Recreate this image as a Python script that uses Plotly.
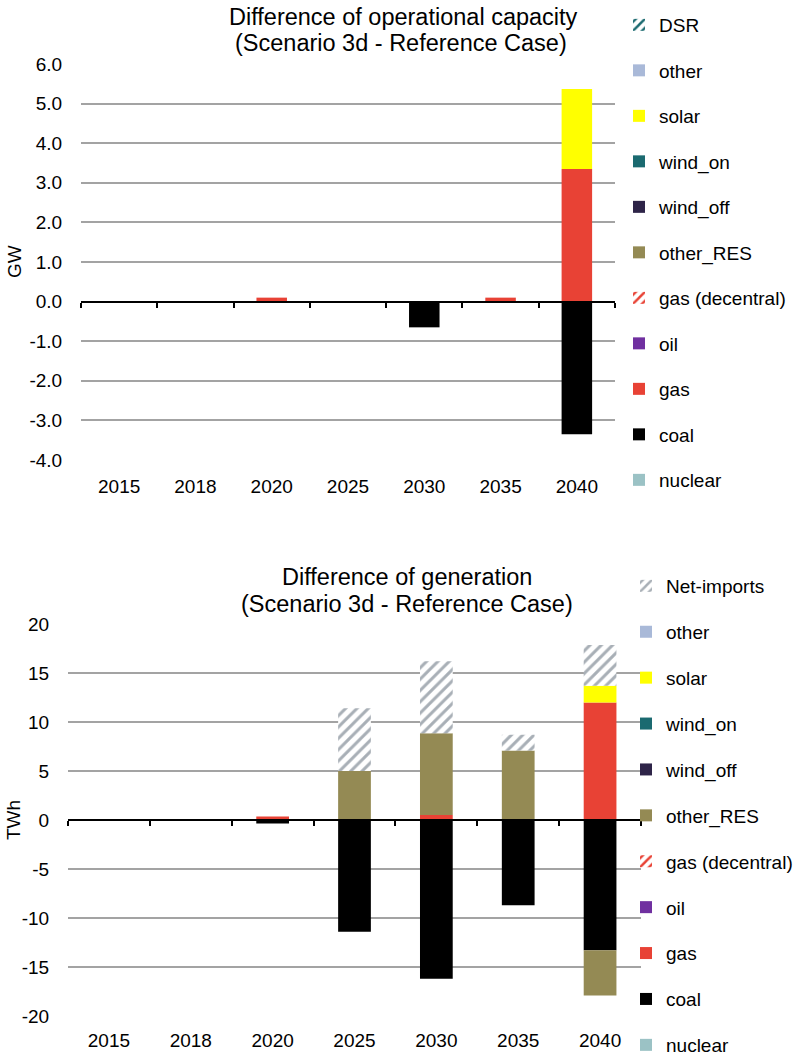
import plotly.graph_objects as go

W, H = 795, 1059

years = ["2015", "2018", "2020", "2025", "2030", "2035", "2040"]

# ---- operational capacity difference (GW) ----
cap_nuclear = [0, 0, 0, 0, 0, 0, 0]
cap_coal = [0, 0, 0, 0, -0.65, 0, -3.35]
cap_gas = [0, 0, 0.1, -0.03, 0, 0.1, 3.35]
cap_oil = [0, 0, 0, 0, 0, 0, 0]
cap_gas_dec = [0, 0, 0, 0, 0, 0, 0]
cap_other_res = [0, 0, 0, 0, 0, 0, 0]
cap_wind_off = [0, 0, 0, 0, 0, 0, 0]
cap_wind_on = [0, 0, 0, 0, 0, 0, 0]
cap_solar = [0, 0, 0, 0, 0, 0, 2.02]
cap_other = [0, 0, 0, 0, 0, 0, 0]
cap_dsr = [0, 0, 0, 0, 0, 0, 0]

# ---- generation difference (TWh) ----
gen_nuclear = [0, 0, 0, 0, 0, 0, 0]
gen_coal = [0, 0, -0.35, -11.4, -16.2, -8.7, -13.3]
gen_gas = [0, 0, 0.35, 0, 0.5, 0, 12.0]
gen_oil = [0, 0, 0, 0, 0, 0, 0]
gen_gas_dec = [0, 0, 0, 0, 0, 0, 0]
gen_other_res = [0, 0, 0, 5.0, 8.35, 7.1, -4.6]
gen_wind_off = [0, 0, 0, 0, 0, 0, 0]
gen_wind_on = [0, 0, 0, 0, 0, 0, 0]
gen_solar = [0, 0, 0, 0, 0, 0, 1.7]
gen_other = [0, 0, 0, 0, 0, 0, 0]
gen_net_imports = [0, 0, 0, 6.4, 7.35, 1.6, 4.15]

# ---- axis tick labels ----
cap_tickvals = [-4, -3, -2, -1, 0, 1, 2, 3, 4, 5, 6]
cap_ticktext = ["-4.0", "-3.0", "-2.0", "-1.0", "0.0", "1.0", "2.0", "3.0", "4.0", "5.0", "6.0"]
gen_tickvals = [-20, -15, -10, -5, 0, 5, 10, 15, 20]
gen_ticktext = ["-20", "-15", "-10", "-5", "0", "5", "10", "15", "20"]

colors = {
    "nuclear": "#9bc2c5",
    "coal": "#000000",
    "gas": "#e84235",
    "oil": "#7030a0",
    "gas (decentral)": "#e84235",
    "other_RES": "#948a54",
    "wind_off": "#2e2448",
    "wind_on": "#1b6a70",
    "solar": "#ffff00",
    "other": "#a9b9d8",
    "DSR": "#1b6a70",
    "Net-imports": "#a8afb6",
}
hatched = {"gas (decentral)", "DSR", "Net-imports"}

cap_series = [("nuclear", cap_nuclear), ("coal", cap_coal), ("gas", cap_gas), ("oil", cap_oil),
              ("gas (decentral)", cap_gas_dec), ("other_RES", cap_other_res), ("wind_off", cap_wind_off),
              ("wind_on", cap_wind_on), ("solar", cap_solar), ("other", cap_other), ("DSR", cap_dsr)]
gen_series = [("nuclear", gen_nuclear), ("coal", gen_coal), ("gas", gen_gas), ("oil", gen_oil),
              ("gas (decentral)", gen_gas_dec), ("other_RES", gen_other_res), ("wind_off", gen_wind_off),
              ("wind_on", gen_wind_on), ("solar", gen_solar), ("other", gen_other),
              ("Net-imports", gen_net_imports)]

FONT = "Liberation Sans, Arial, sans-serif"
FS = 19

# page-pixel geometry
top_x = (81, 615)
top_y = (64, 460)
bot_x = (68, 641)
bot_y = (624, 1016)
top_range = (-4, 6)
bot_range = (-20, 20)


def fx(p):
    return p / W


def fy(p):
    return 1 - p / H


def xd(px):
    return [fx(px[0]), fx(px[1])]


def yd(py):
    return [fy(py[1]), fy(py[0])]


fig = go.Figure()


def marker_for(name):
    c = colors[name]
    if name in hatched:
        return dict(color="white", line=dict(width=0),
                    pattern=dict(shape="/", fgcolor=c, bgcolor="white", size=8, solidity=0.38,
                                 fillmode="replace"))
    return dict(color=c, line=dict(width=0))


n = len(cap_series)
for i, (name, vals) in enumerate(cap_series):
    fig.add_trace(go.Bar(x=years, y=vals, name=name, marker=marker_for(name),
                         xaxis="x", yaxis="y", legend="legend", legendgroup="a%d" % i,
                         legendrank=100 + (n - i), hoverinfo="name+y"))
for i, (name, vals) in enumerate(gen_series):
    fig.add_trace(go.Bar(x=years, y=vals, name=name, marker=marker_for(name),
                         xaxis="x2", yaxis="y2", legend="legend2", legendgroup="b%d" % i,
                         legendrank=100 + (n - i), hoverinfo="name+y"))

tickfont = dict(family=FONT, size=FS, color="#000000")
grid = "#a3a3a3"

xcommon = dict(type="category", showline=False, showgrid=False, zeroline=False,
               ticks="outside", tickcolor="rgba(0,0,0,0)", tickfont=tickfont,
               automargin=False, range=[-0.5, 6.5])
ycommon = dict(showline=False, showgrid=True, gridcolor=grid, gridwidth=2, zeroline=False,
               ticks="outside", ticklen=14, tickcolor="rgba(0,0,0,0)", tickfont=tickfont,
               automargin=False, tickmode="array")

ytd = yd(top_y)
ybd = yd(bot_y)
zero_top = ytd[0] + (0 - top_range[0]) / (top_range[1] - top_range[0]) * (ytd[1] - ytd[0])
zero_bot = ybd[0] + (0 - bot_range[0]) / (bot_range[1] - bot_range[0]) * (ybd[1] - ybd[0])

bounds = [-0.5 + k for k in range(8)]
zcommon = dict(anchor="free", showline=True, linecolor="#000000", linewidth=2,
               ticks="outside", ticklen=5, tickwidth=2, tickcolor="#000000",
               tickvals=bounds, showticklabels=False, showgrid=False, zeroline=False,
               range=[-0.5, 6.5], automargin=False)

legend_common = dict(xref="container", yref="container", xanchor="left", yanchor="top",
                     traceorder="grouped",
                     font=dict(family=FONT, size=FS, color="#000000"), bgcolor="rgba(0,0,0,0)")

fig.update_layout(
    width=W, height=H,
    margin=dict(l=0, r=0, t=0, b=0, autoexpand=False),
    paper_bgcolor="white", plot_bgcolor="white",
    font=dict(family=FONT, size=FS, color="#000000"),
    barmode="relative", bargap=0.6,
    xaxis=dict(domain=xd(top_x), anchor="y", ticklen=9, **xcommon),
    yaxis=dict(domain=ytd, anchor="x", range=list(top_range), tickvals=cap_tickvals,
               ticktext=cap_ticktext, **ycommon),
    xaxis2=dict(domain=xd(bot_x), anchor="y2", ticklen=7, **xcommon),
    yaxis2=dict(domain=ybd, anchor="x2", range=list(bot_range), tickvals=gen_tickvals,
                ticktext=gen_ticktext, **ycommon),
    xaxis3=dict(overlaying="x", position=zero_top, **zcommon),
    xaxis4=dict(overlaying="x2", position=zero_bot, **zcommon),
    legend=dict(x=fx(619), y=fy(6), tracegroupgap=17.8, **legend_common),
    legend2=dict(x=fx(626), y=fy(567), tracegroupgap=18.2, **legend_common),
    showlegend=True,
)

# invisible traces to activate overlay zero-line axes
fig.add_trace(go.Scatter(x=[0], y=[0], xaxis="x3", yaxis="y", mode="markers",
                         marker=dict(opacity=0), showlegend=False, hoverinfo="skip"))
fig.add_trace(go.Scatter(x=[0], y=[0], xaxis="x4", yaxis="y2", mode="markers",
                         marker=dict(opacity=0), showlegend=False, hoverinfo="skip"))

tfont = dict(family=FONT, size=23.5, color="#000000")
annos = [
    dict(text="Difference of operational capacity", x=fx(403), y=fy(17)),
    dict(text="(Scenario 3d - Reference Case)", x=fx(401), y=fy(43)),
    dict(text="Difference of generation", x=fx(407), y=fy(577)),
    dict(text="(Scenario 3d - Reference Case)", x=fx(407), y=fy(604)),
]
for a in annos:
    fig.add_annotation(xref="paper", yref="paper", showarrow=False, xanchor="center",
                       yanchor="middle", font=tfont, **a)
fig.add_annotation(text="GW", xref="paper", yref="paper", x=fx(14), y=fy(262),
                   textangle=-90, showarrow=False, font=dict(family=FONT, size=FS),
                   xanchor="center", yanchor="middle")
fig.add_annotation(text="TWh", xref="paper", yref="paper", x=fx(13), y=fy(820),
                   textangle=-90, showarrow=False, font=dict(family=FONT, size=FS),
                   xanchor="center", yanchor="middle")

fig.write_html("out.html", config={"displayModeBar": False},
               post_script="document.body.style.margin='0';document.body.style.padding='0';")
